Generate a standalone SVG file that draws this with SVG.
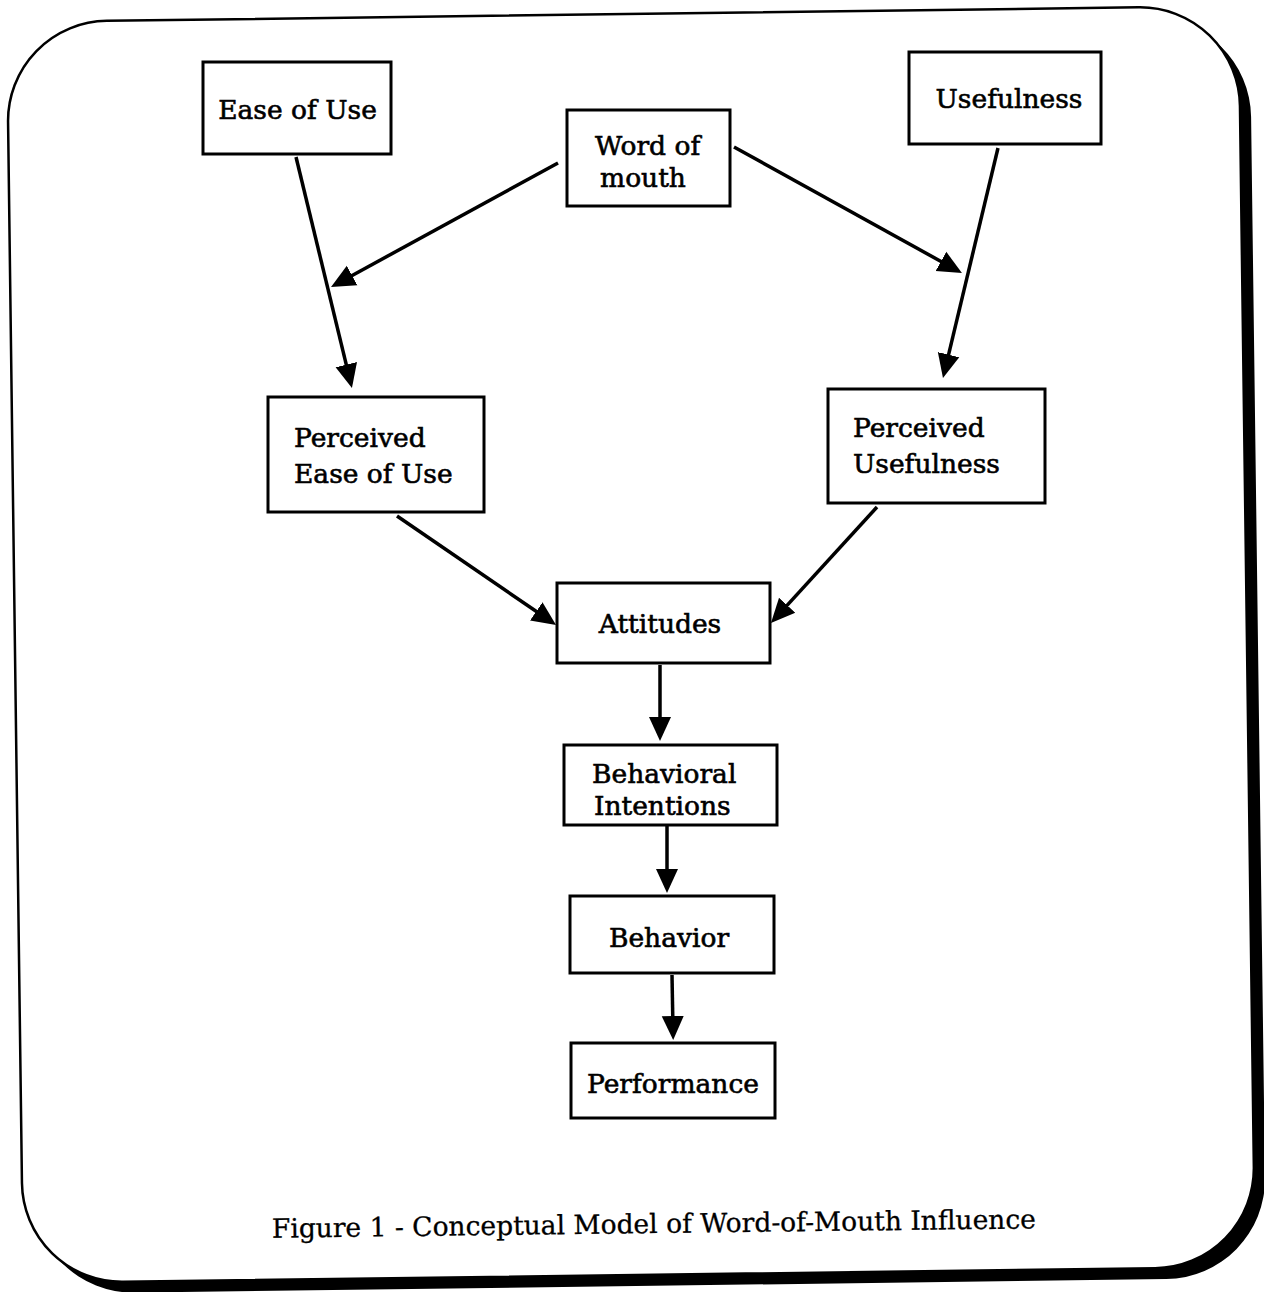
<svg xmlns="http://www.w3.org/2000/svg" width="1264" height="1292" viewBox="0 0 1264 1292">
<defs>
<style>
.box{fill:#fff;stroke:#000;stroke-width:3}
.t{font-family:"DejaVu Serif","Liberation Serif",serif;font-size:26.5px;fill:#000;stroke:#000;stroke-width:0.6}
.c{text-anchor:middle}
.ln{stroke:#000;stroke-width:3.5;fill:none;marker-end:url(#ah)}
</style>
<marker id="ah" markerUnits="userSpaceOnUse" markerWidth="26" markerHeight="24" viewBox="0 0 26 24" refX="14" refY="12" orient="auto">
<path d="M0,1 L24,12 L0,23 z" fill="#000"/>
</marker>
</defs>
<rect width="1264" height="1292" fill="#fff"/>
<g id="frame" transform="rotate(-0.75 635 648)">
<rect x="26" y="25" width="1232" height="1261" rx="100" ry="100" fill="#000"/>
<rect x="15" y="14" width="1232" height="1261" rx="100" ry="100" fill="#fff" stroke="#000" stroke-width="2.5"/>
</g>
<g id="connectors">
<line class="ln" x1="296" y1="157" x2="349.6" y2="378.3"/>
<line class="ln" x1="558" y1="163" x2="339.8" y2="282.2"/>
<line class="ln" x1="734" y1="147" x2="953.2" y2="268.2"/>
<line class="ln" x1="998" y1="148" x2="945.3" y2="368.3"/>
<line class="ln" x1="397" y1="516" x2="547.8" y2="619.3"/>
<line class="ln" x1="877" y1="507" x2="777.7" y2="615.6"/>
<line class="ln" x1="660" y1="665" x2="660" y2="731"/>
<line class="ln" x1="667" y1="826" x2="667" y2="883"/>
<line class="ln" x1="672" y1="975" x2="673" y2="1030"/>
</g>
<g id="ease-of-use">
<rect class="box" x="203" y="62" width="188" height="92"/>
<text class="t c" x="297.5" y="119">Ease of Use</text>
</g>
<g id="word-of-mouth">
<rect class="box" x="567" y="110" width="163" height="96"/>
<text class="t" x="595" y="155">Word of</text>
<text class="t" x="600" y="187">mouth</text>
</g>
<g id="usefulness">
<rect class="box" x="909" y="52" width="192" height="92"/>
<text class="t c" x="1009" y="108">Usefulness</text>
</g>
<g id="perceived-ease-of-use">
<rect class="box" x="268" y="397" width="216" height="115"/>
<text class="t" x="294" y="447">Perceived</text>
<text class="t" x="294" y="483">Ease of Use</text>
</g>
<g id="perceived-usefulness">
<rect class="box" x="828" y="389" width="217" height="114"/>
<text class="t" x="853" y="437">Perceived</text>
<text class="t" x="853" y="473">Usefulness</text>
</g>
<g id="attitudes">
<rect class="box" x="557" y="583" width="213" height="80"/>
<text class="t c" x="660" y="633">Attitudes</text>
</g>
<g id="behavioral-intentions">
<rect class="box" x="564" y="745" width="213" height="80"/>
<text class="t" x="592" y="783">Behavioral</text>
<text class="t" x="594" y="815">Intentions</text>
</g>
<g id="behavior">
<rect class="box" x="570" y="896" width="204" height="77"/>
<text class="t c" x="669" y="947">Behavior</text>
</g>
<g id="performance">
<rect class="box" x="571" y="1043" width="204" height="75"/>
<text class="t c" x="673" y="1093">Performance</text>
</g>
<text class="t c" x="654" y="1233" transform="rotate(-0.7 654 1233)" style="stroke-width:0.3">Figure 1 - Conceptual Model of Word-of-Mouth Influence</text>
</svg>
